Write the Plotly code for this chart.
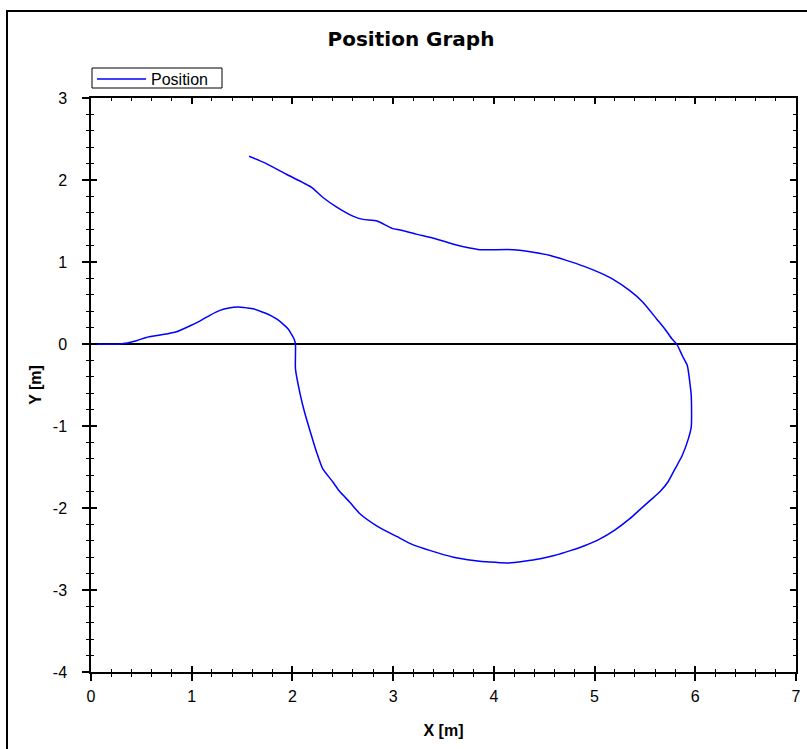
import plotly.graph_objects as go

# ---- data ----
x_pos = [0.00, 0.29, 0.45, 0.55, 0.69, 0.85, 0.98, 1.08, 1.18, 1.28, 1.37, 1.46, 1.55, 1.61,
         1.70, 1.78, 1.85, 1.91, 1.96, 1.99, 2.02, 2.03, 2.03, 2.03, 2.08, 2.12, 2.17, 2.24,
         2.30, 2.40, 2.47, 2.57, 2.67, 2.84, 3.04, 3.20, 3.37, 3.60, 3.80, 3.96, 4.15, 4.30,
         4.46, 4.60, 4.76, 4.90, 5.05, 5.20, 5.35, 5.45, 5.55, 5.65, 5.73, 5.80, 5.87, 5.93,
         5.96, 5.96, 5.95, 5.92, 5.87, 5.82, 5.77, 5.70, 5.62, 5.48, 5.35, 5.18, 5.05, 4.89,
         4.72, 4.56, 4.39, 4.19, 3.86, 3.76, 3.59, 3.40, 3.23, 3.07, 2.99, 2.84, 2.70, 2.60,
         2.44, 2.30, 2.19, 1.94, 1.74, 1.57]
y_pos = [0.00, 0.00, 0.04, 0.08, 0.11, 0.15, 0.22, 0.28, 0.35, 0.41, 0.44, 0.45, 0.44, 0.43,
         0.39, 0.35, 0.30, 0.24, 0.18, 0.12, 0.05, 0.00, -0.16, -0.30, -0.63, -0.83, -1.04,
         -1.32, -1.52, -1.68, -1.80, -1.93, -2.07, -2.22, -2.35, -2.45, -2.52, -2.60, -2.64,
         -2.66, -2.67, -2.65, -2.62, -2.58, -2.52, -2.46, -2.38, -2.27, -2.13, -2.02, -1.91,
         -1.80, -1.68, -1.52, -1.36, -1.16, -1.01, -0.63, -0.51, -0.26, -0.14, -0.01, 0.06,
         0.18, 0.30, 0.51, 0.65, 0.79, 0.87, 0.95, 1.02, 1.08, 1.12, 1.15, 1.15, 1.17, 1.22,
         1.29, 1.34, 1.39, 1.41, 1.50, 1.52, 1.56, 1.67, 1.79, 1.91, 2.07, 2.20, 2.29]

x_ticks = [0, 1, 2, 3, 4, 5, 6, 7]
x_tick_labels = ["0", "1", "2", "3", "4", "5", "6", "7"]
y_ticks = [-4, -3, -2, -1, 0, 1, 2, 3]
y_tick_labels = ["-4", "-3", "-2", "-1", "0", "1", "2", "3"]

series_name = "Position"
title_text = "Position Graph"
x_title = "X [m]"
y_title = "Y [m]"

# ---- layout geometry ----
W, H = 807, 749
L, R, T, B = 91, 11, 98, 77
pw, ph = W - L - R, H - T - B


def px_x(p):
    return (p - L) / pw


def px_y(p):
    return (H - B - p) / ph


tick_font = dict(family="Liberation Sans", size=16, color="black")
axis_title_font = dict(family="Liberation Sans", size=16, color="black")

fig = go.Figure()
fig.add_trace(go.Scatter(x=x_pos, y=y_pos, mode="lines", name=series_name,
                         line=dict(color="#0000ff", width=1.5, shape="spline", smoothing=0.6)))
# helper trace so the overlay axes (inner ticks) are drawn
fig.add_trace(go.Scatter(x=[None], y=[None], xaxis="x2", yaxis="y2",
                         showlegend=False, hoverinfo="skip"))

minor_out = dict(ticks="outside", ticklen=3, tickwidth=1, tickcolor="black",
                 tickmode="linear", tick0=0, dtick=0.2, showgrid=False)
minor_in = dict(ticks="inside", ticklen=3, tickwidth=1, tickcolor="black",
                tickmode="linear", tick0=0, dtick=0.2, showgrid=False)

fig.update_layout(
    width=W, height=H,
    margin=dict(l=L, r=R, t=T, b=B, autoexpand=False),
    paper_bgcolor="white", plot_bgcolor="white",
    title=dict(text="<b>" + title_text + "</b>",
               font=dict(family="DejaVu Sans", size=20, color="black"),
               x=411 / W, xref="container", xanchor="center",
               y=1 - 39 / H, yref="container", yanchor="middle"),
    showlegend=True,
    legend=dict(x=px_x(92), y=px_y(62), xanchor="left", yanchor="top",
                borderwidth=0, bgcolor="rgba(0,0,0,0)", itemwidth=49,
                font=dict(family="Liberation Sans", size=16, color="black"),
                tracegroupgap=0),
    xaxis=dict(range=[0, 7], tickmode="array", tickvals=x_ticks, ticktext=x_tick_labels,
               ticks="outside", ticklen=7, tickwidth=1.5, tickcolor="black",
               minor=minor_out, showline=True, linecolor="black", linewidth=1.5,
               showgrid=False, zeroline=False, tickfont=tick_font, ticklabelstandoff=2,
               title=dict(text="<b>" + x_title + "</b>", font=axis_title_font, standoff=21),
               fixedrange=True),
    yaxis=dict(range=[-4, 3], tickmode="array", tickvals=y_ticks, ticktext=y_tick_labels,
               ticks="outside", ticklen=7, tickwidth=1.5, tickcolor="black",
               minor=minor_out, showline=True, linecolor="black", linewidth=1.5,
               showgrid=False, zeroline=True, zerolinecolor="black", zerolinewidth=1.5,
               tickfont=tick_font, ticklabelstandoff=12,
               title=dict(text="<b>" + y_title + "</b>", font=axis_title_font, standoff=7),
               fixedrange=True),
    xaxis2=dict(range=[0, 7], overlaying="x", anchor="y2", side="bottom",
                tickmode="array", tickvals=x_ticks, showticklabels=False,
                ticks="inside", ticklen=6, tickwidth=1.5, tickcolor="black",
                minor=minor_in, showline=True, linecolor="black", linewidth=1.5,
                mirror="ticks", showgrid=False, zeroline=False, fixedrange=True),
    yaxis2=dict(range=[-4, 3], overlaying="y", anchor="x2", side="left",
                tickmode="array", tickvals=y_ticks, showticklabels=False,
                ticks="inside", ticklen=6, tickwidth=1.5, tickcolor="black",
                minor=minor_in, showline=True, linecolor="black", linewidth=1.5,
                mirror="ticks", showgrid=False, zeroline=False, fixedrange=True),
    shapes=[
        # outer frame (right and bottom edges fall outside the picture)
        dict(type="rect", xref="paper", yref="paper",
             x0=px_x(7), x1=px_x(W + 20), y0=px_y(H + 20), y1=px_y(11),
             line=dict(color="black", width=2), layer="below"),
        # legend box
        dict(type="rect", xref="paper", yref="paper",
             x0=px_x(92), x1=px_x(222), y0=px_y(88), y1=px_y(68),
             line=dict(color="black", width=1), layer="above"),
    ],
)

fig.write_html("out.html", config={"displayModeBar": False},
               post_script="document.body.style.margin='0px';")
